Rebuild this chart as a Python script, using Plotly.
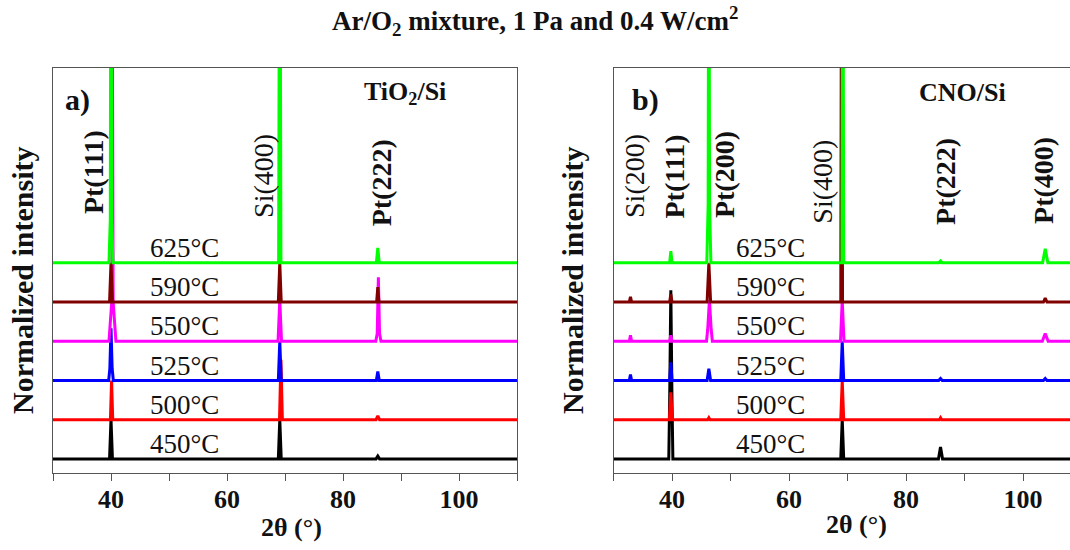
import plotly.graph_objects as go

# ---------------- data ----------------
temps = ["450°C", "500°C", "525°C", "550°C", "590°C", "625°C"]
colors = ["#000000", "#FF0000", "#0000FF", "#FF00FF", "#800000", "#00FF00"]
offsets = [0, 1, 2, 3, 4, 5]          # vertical stacking of the normalized patterns
two_theta_min = 30
two_theta_max = 110

# peaks: (2theta, height, half-width[, shoulder height, shoulder half-width])
# panel a) TiO2/Si
a_450 = [(40.0, 1.0, 0.25), (69.1, 1.0, 0.25), (86.0, 0.07, 0.3)]
a_500 = [(40.1, 1.0, 0.2), (69.3, 1.53, 0.25), (86.0, 0.1, 0.3)]
a_525 = [(40.0, 1.33, 0.2, 0.3, 0.4), (69.1, 1.0, 0.25), (86.0, 0.23, 0.25)]
a_550 = [(40.25, 8.0, 0.12, 1.0, 0.6), (69.1, 1.05, 0.3), (86.1, 1.63, 0.2, 0.2, 0.45)]
a_590 = [(40.0, 1.0, 0.25), (69.1, 1.0, 0.25), (86.0, 0.38, 0.2)]
a_625 = [(40.0, 12.0, 0.12, 1.1, 0.35), (69.1, 12.0, 0.2), (86.0, 0.38, 0.25)]

# panel b) CNO/Si
b_450 = [(39.8, 4.3, 0.2, 1.5, 0.35), (69.1, 1.0, 0.25), (85.9, 0.3, 0.35)]
b_500 = [(39.8, 0.7, 0.25), (46.3, 0.05, 0.2), (69.1, 1.0, 0.25), (85.9, 0.05, 0.2)]
b_525 = [(32.9, 0.15, 0.2), (39.8, 0.46, 0.2), (46.3, 0.3, 0.3), (69.1, 1.0, 0.25),
         (85.9, 0.05, 0.3), (103.8, 0.05, 0.3)]
b_550 = [(32.9, 0.15, 0.2), (39.8, 0.15, 0.2), (46.4, 1.05, 0.3, 0.3, 0.5),
         (69.1, 1.05, 0.3), (103.8, 0.2, 0.5)]
b_590 = [(32.9, 0.13, 0.2), (39.8, 0.2, 0.2), (46.3, 1.0, 0.3), (69.0, 12.0, 0.15),
         (103.8, 0.1, 0.3)]
b_625 = [(39.8, 0.3, 0.2), (46.3, 12.0, 0.12, 1.5, 0.35), (69.2, 12.0, 0.15),
         (85.9, 0.05, 0.3), (103.8, 0.36, 0.45)]

panel_a = [a_450, a_500, a_525, a_550, a_590, a_625]
panel_b = [b_450, b_500, b_525, b_550, b_590, b_625]

# peak labels: (text, 2theta of label, label height in stack units, bold)
labels_a = [("Pt(111)", 37.1, 7.32, True), ("Si(400)", 66.4, 7.22, False),
            ("Pt(222)", 86.7, 7.05, True)]
labels_b = [("Si(200)", 33.7, 7.22, False), ("Pt(111)", 40.5, 7.2, True),
            ("Pt(200)", 48.9, 7.24, True), ("Si(400)", 65.8, 7.07, False),
            ("Pt(222)", 86.7, 7.07, True), ("Pt(400)", 103.6, 7.09, True)]

FONT = "Liberation Serif, Times New Roman, serif"


def pattern(peaks, base):
    xs, ys = [two_theta_min], [base]
    for p in sorted(peaks):
        pos, h, hw = p[:3]
        if len(p) == 5:
            sh, shw = p[3], p[4]
            xs += [pos - shw, pos - hw, pos, pos + hw, pos + shw]
            ys += [base, base + sh, base + h, base + sh, base]
        else:
            xs += [pos - hw, pos, pos + hw]
            ys += [base, base + h, base]
    xs.append(two_theta_max)
    ys.append(base)
    return xs, ys


fig = go.Figure()
for panel, (xa, ya) in ((panel_a, ("x", "y")), (panel_b, ("x2", "y2"))):
    for peaks, off, col, t in zip(panel, offsets, colors, temps):
        xs, ys = pattern(peaks, off)
        fig.add_trace(go.Scatter(x=xs, y=ys, mode="lines", xaxis=xa, yaxis=ya,
                                 line=dict(color=col, width=3), name=t,
                                 showlegend=False, hoverinfo="skip"))

Y0, Y1 = -0.36, 9.97
axis_common = dict(showgrid=False, zeroline=False, showline=True, linecolor="#555555",
                   linewidth=1)
xcommon = dict(axis_common, ticks="outside", ticklen=7, tickcolor="#555555",
               tick0=40, dtick=20, mirror=True, ticklabelstandoff=-4,
               minor=dict(dtick=10, ticks="outside", ticklen=7, tickcolor="#555555",
                          showgrid=False),
               tickfont=dict(family=FONT, size=26, color="#111", weight="bold"))
fig.update_layout(
    width=1070, height=550, margin=dict(l=0, r=0, t=0, b=0),
    paper_bgcolor="white", plot_bgcolor="white",
    xaxis=dict(xcommon, domain=[53 / 1070, 517 / 1070], range=[30, 110]),
    yaxis=dict(axis_common, domain=[77 / 550, 482 / 550], range=[Y0, Y1],
               showticklabels=False, ticks="", mirror=True),
    xaxis2=dict(xcommon, domain=[613.5 / 1070, 1.0], range=[30, 30 + (1070 - 613.5) / 5.85],
                anchor="y2"),
    yaxis2=dict(axis_common, domain=[77 / 550, 482 / 550], range=[Y0, Y1],
                showticklabels=False, ticks="", mirror=False, anchor="x2"),
)

ann = []
def add(text, x, y, xref, yref, size, bold=False, angle=0, xanchor="center"):
    ann.append(dict(text=text, x=x, y=y, xref=xref, yref=yref, showarrow=False,
                    textangle=angle, xanchor=xanchor, yanchor="middle",
                    font=dict(family=FONT, size=size, color="#111",
                              weight="bold" if bold else "normal")))

# main title
add("Ar/O<sub>2</sub> mixture, 1 Pa and 0.4 W/cm<sup>2</sup>", 0.5, 1 - 21 / 550,
    "paper", "paper", 27, bold=True)

for (xr, yr, labels, tx, letter, sub, subx) in (
        ("x", "y", labels_a, 52.6, "a)", "TiO<sub>2</sub>/Si", 90.7),
        ("x2", "y2", labels_b, 56.9, "b)", "CNO/Si", 89.6)):
    for t, off in zip(temps, offsets):
        add(t, tx, off + 0.38, xr, yr, 27)
    for text, pos, ly, bold in labels:
        add(text, pos, ly, xr, yr, 28, bold=bold, angle=-90)
    add(letter, 34.3 if xr == "x" else 35.5, 9.16, xr, yr, 30, bold=True)
    add(sub, subx, 9.34, xr, yr, 26, bold=True)

# axis titles
add("2θ (°)", 291 / 1070, 1 - 527 / 550, "paper", "paper", 26, bold=True)
add("2θ (°)", 856 / 1070, 1 - 524 / 550, "paper", "paper", 26, bold=True)
add("Normalized intensity", 22 / 1070, 1 - 281 / 550, "paper", "paper", 30, bold=True, angle=-90)
add("Normalized intensity", 572 / 1070, 1 - 281 / 550, "paper", "paper", 30, bold=True, angle=-90)

fig.update_layout(annotations=ann)
fig.write_html("out.html")
